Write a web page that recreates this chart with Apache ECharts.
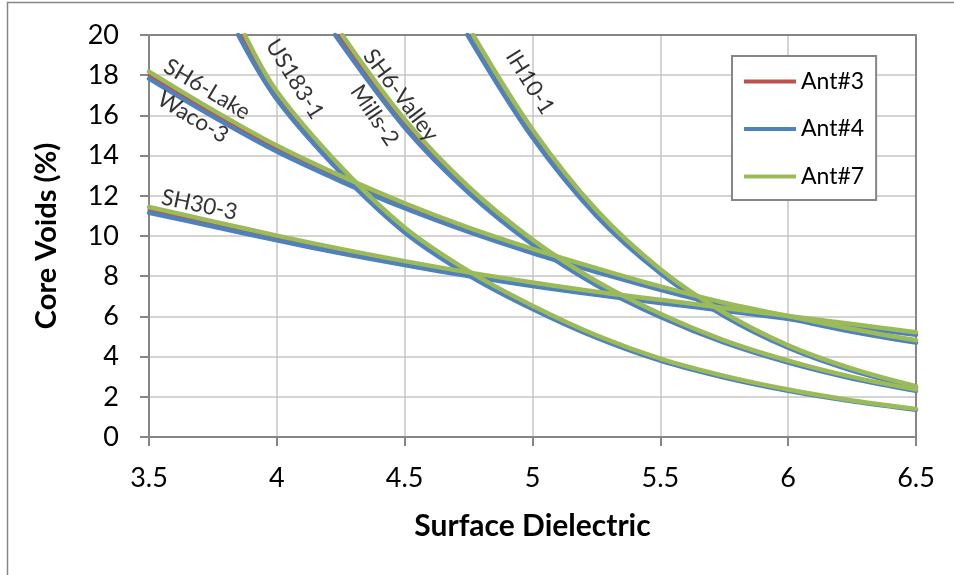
<!DOCTYPE html>
<html>
<head>
<meta charset="utf-8">
<script src="https://cdn.jsdelivr.net/npm/echarts@6/dist/echarts.min.js"></script>
<style>
  html, body { margin: 0; padding: 0; background: #fff; }
  #chart { width: 954px; height: 575px; }
</style>
</head>
<body>
<div id="chart"></div>
<script>
// Core voids (%) against surface dielectric, one trace per mix and GPR antenna
const antennas = ['Ant#3', 'Ant#4', 'Ant#7'];
const antennaColors = ['#C0504D', '#4F81BD', '#9BBB59'];

const dielectric = [3.5, 3.75, 4, 4.25, 4.5, 4.75, 5, 5.25, 5.5, 5.75, 6, 6.25, 6.5];
const xTicks = [3.5, 4, 4.5, 5, 5.5, 6, 6.5];
const yTicks = [0, 2, 4, 6, 8, 10, 12, 14, 16, 18, 20];

// SH6-Lake (Waco-3 runs along the same trace), full dielectric range
const sh6LakeAnt3 = [18.0, 16.1, 14.35, 12.85, 11.5, 10.3, 9.25, 8.3, 7.4, 6.6, 5.95, 5.3, 4.75];
const sh6LakeAnt4 = [17.83, 15.94, 14.2, 12.72, 11.38, 10.2, 9.15, 8.21, 7.32, 6.53, 5.89, 5.24, 4.7];
const sh6LakeAnt7 = [18.18, 16.27, 14.5, 12.99, 11.63, 10.42, 9.36, 8.4, 7.49, 6.68, 6.02, 5.37, 4.81];

// SH30-3, full dielectric range
const sh30Ant3 = [11.3, 10.6, 9.9, 9.25, 8.65, 8.1, 7.6, 7.15, 6.75, 6.35, 5.95, 5.55, 5.15];
const sh30Ant4 = [11.16, 10.47, 9.78, 9.14, 8.55, 8.01, 7.51, 7.07, 6.67, 6.28, 5.88, 5.48, 5.09];
const sh30Ant7 = [11.44, 10.73, 10.02, 9.36, 8.75, 8.19, 7.69, 7.23, 6.83, 6.42, 6.02, 5.62, 5.21];

// US183-1: dielectric where each trace enters at 20 %, then values from 4.0 on
const us183Entry = [3.862, 3.849, 3.875];
const us183Ant3 = [17.0, 13.3, 10.3, 8.15, 6.45, 5.0, 3.85, 3.0, 2.33, 1.8, 1.38];
const us183Ant4 = [16.8, 13.15, 10.18, 8.05, 6.37, 4.94, 3.8, 2.96, 2.3, 1.78, 1.36];
const us183Ant7 = [17.2, 13.45, 10.42, 8.25, 6.53, 5.06, 3.9, 3.04, 2.36, 1.82, 1.4];

// SH6-Valley (Mills-2 runs along the same trace): entry at 20 %, then from 4.5 on
const sh6ValleyEntry = [4.242, 4.228, 4.256];
const sh6ValleyAnt3 = [15.6, 12.3, 9.7, 7.65, 6.05, 4.75, 3.75, 2.95, 2.33];
const sh6ValleyAnt4 = [15.4, 12.15, 9.58, 7.55, 5.97, 4.69, 3.7, 2.91, 2.3];
const sh6ValleyAnt7 = [15.8, 12.45, 9.82, 7.75, 6.13, 4.81, 3.8, 2.99, 2.36];

// IH10-1: entry at 20 %, then from 5.0 on
const ih10Entry = [4.757, 4.746, 4.768];
const ih10Ant3 = [15.1, 11.15, 8.25, 6.1, 4.5, 3.35, 2.5];
const ih10Ant4 = [14.9, 11.0, 8.15, 6.02, 4.44, 3.3, 2.47];
const ih10Ant7 = [15.3, 11.3, 8.35, 6.18, 4.56, 3.4, 2.53];

// Mix names written along the traces: [dielectric, voids] anchor and text angle
const mixNames = ['SH6-Lake', 'Waco-3', 'US183-1', 'SH6-Valley', 'Mills-2', 'IH10-1', 'SH30-3'];
const mixNameAnchor = [[3.727, 17.3], [3.672, 15.9], [4.07, 17.8], [4.485, 17.0], [4.382, 16.0], [4.99, 17.65], [3.697, 11.55]];
const mixNameAngle = [-31, -31, -58, -53, -56, -58, -12];

const FONT = 'Lato, "Open Sans", sans-serif';

function pairs(xs, ys) {
  return ys.map((v, i) => [xs[i], v]);
}
function fullRange(values) {
  return pairs(dielectric, values);
}
function fromEntry(entryX, values, startDielectric) {
  const xs = [entryX].concat(dielectric.slice(dielectric.indexOf(startDielectric)));
  return pairs(xs, [20].concat(values));
}

const traces = [
  [fullRange(sh6LakeAnt3), fullRange(sh6LakeAnt4), fullRange(sh6LakeAnt7)],
  [fullRange(sh30Ant3), fullRange(sh30Ant4), fullRange(sh30Ant7)],
  [fromEntry(us183Entry[0], us183Ant3, 4), fromEntry(us183Entry[1], us183Ant4, 4), fromEntry(us183Entry[2], us183Ant7, 4)],
  [fromEntry(sh6ValleyEntry[0], sh6ValleyAnt3, 4.5), fromEntry(sh6ValleyEntry[1], sh6ValleyAnt4, 4.5), fromEntry(sh6ValleyEntry[2], sh6ValleyAnt7, 4.5)],
  [fromEntry(ih10Entry[0], ih10Ant3, 5), fromEntry(ih10Entry[1], ih10Ant4, 5), fromEntry(ih10Entry[2], ih10Ant7, 5)]
];

const lineWidths = [3, 4.5, 4.5];
const series = [];
// red traces first, then blue, then green on top
for (let a = 0; a < antennas.length; a++) {
  traces.forEach(t => {
    series.push({
      type: 'line',
      name: antennas[a],
      data: t[a],
      symbol: 'none',
      showSymbol: false,
      smooth: 0.35,
      clip: true,
      z: 2 + a,
      lineStyle: { color: antennaColors[a], width: lineWidths[a], cap: 'round', join: 'round' },
      itemStyle: { color: antennaColors[a] },
      emphasis: { disabled: true }
    });
  });
}

series.push({
  type: 'scatter',
  name: 'mix-names',
  symbolSize: 0,
  silent: true,
  z: 10,
  data: mixNames.map((n, i) => ({
    value: mixNameAnchor[i],
    name: n,
    label: { rotate: mixNameAngle[i] }
  })),
  label: {
    show: true,
    position: 'inside',
    formatter: p => p.name,
    color: '#000',
    fontFamily: FONT,
    fontSize: 22.5
  }
});

const axisGray = '#868686';
const gridGray = '#c6c6c6';

const chart = echarts.init(document.getElementById('chart'), null, { renderer: 'canvas' });
chart.setOption({
  animation: false,
  backgroundColor: '#fff',
  textStyle: { fontFamily: FONT },
  grid: { left: 149, right: 38, top: 35, bottom: 138, containLabel: false },
  graphic: [{
    type: 'rect',
    shape: { x: 7.5, y: 2.5, width: 1200, height: 900 },
    style: { fill: 'none', stroke: axisGray, lineWidth: 1.5 },
    silent: true,
    z: -1
  }],
  legend: {
    data: antennas,
    orient: 'vertical',
    left: 732,
    top: 56,
    padding: [14, 12, 12, 12],
    itemWidth: 52,
    itemHeight: 4,
    itemGap: 24.5,
    icon: 'rect',
    backgroundColor: '#fff',
    borderColor: axisGray,
    borderWidth: 2,
    textStyle: { fontFamily: FONT, fontSize: 23, color: '#000' },
    selectedMode: false
  },
  xAxis: [{
    type: 'value',
    min: xTicks[0],
    max: xTicks[xTicks.length - 1],
    interval: 0.5,
    position: 'bottom',
    name: 'Surface Dielectric',
    nameLocation: 'middle',
    nameGap: 74,
    nameTextStyle: { fontFamily: FONT, fontSize: 30, fontWeight: 'bold', color: '#000' },
    axisLine: { show: true, onZero: false, lineStyle: { color: axisGray, width: 2 } },
    axisTick: { show: true, length: 9, lineStyle: { color: axisGray, width: 2 } },
    axisLabel: { margin: 28, fontFamily: FONT, fontSize: 27, color: '#000' },
    splitLine: { show: true, lineStyle: { color: gridGray, width: 1.5 } }
  }, {
    type: 'value',
    min: xTicks[0],
    max: xTicks[xTicks.length - 1],
    position: 'top',
    axisLine: { show: true, onZero: false, lineStyle: { color: axisGray, width: 2 } },
    axisTick: { show: false },
    axisLabel: { show: false },
    splitLine: { show: false }
  }],
  yAxis: [{
    type: 'value',
    min: yTicks[0],
    max: yTicks[yTicks.length - 1],
    interval: 2,
    position: 'left',
    name: 'Core Voids (%)',
    nameLocation: 'middle',
    nameGap: 88,
    nameRotate: 90,
    nameTextStyle: { fontFamily: FONT, fontSize: 29, fontWeight: 'bold', color: '#000' },
    axisLine: { show: true, onZero: false, lineStyle: { color: axisGray, width: 2 } },
    axisTick: { show: true, length: 9, lineStyle: { color: axisGray, width: 2 } },
    axisLabel: { margin: 30, fontFamily: FONT, fontSize: 27, color: '#000' },
    splitLine: { show: true, lineStyle: { color: gridGray, width: 1.5 } }
  }, {
    type: 'value',
    min: yTicks[0],
    max: yTicks[yTicks.length - 1],
    position: 'right',
    axisLine: { show: true, onZero: false, lineStyle: { color: axisGray, width: 2 } },
    axisTick: { show: false },
    axisLabel: { show: false },
    splitLine: { show: false }
  }],
  series: series
});
</script>
</body>
</html>
